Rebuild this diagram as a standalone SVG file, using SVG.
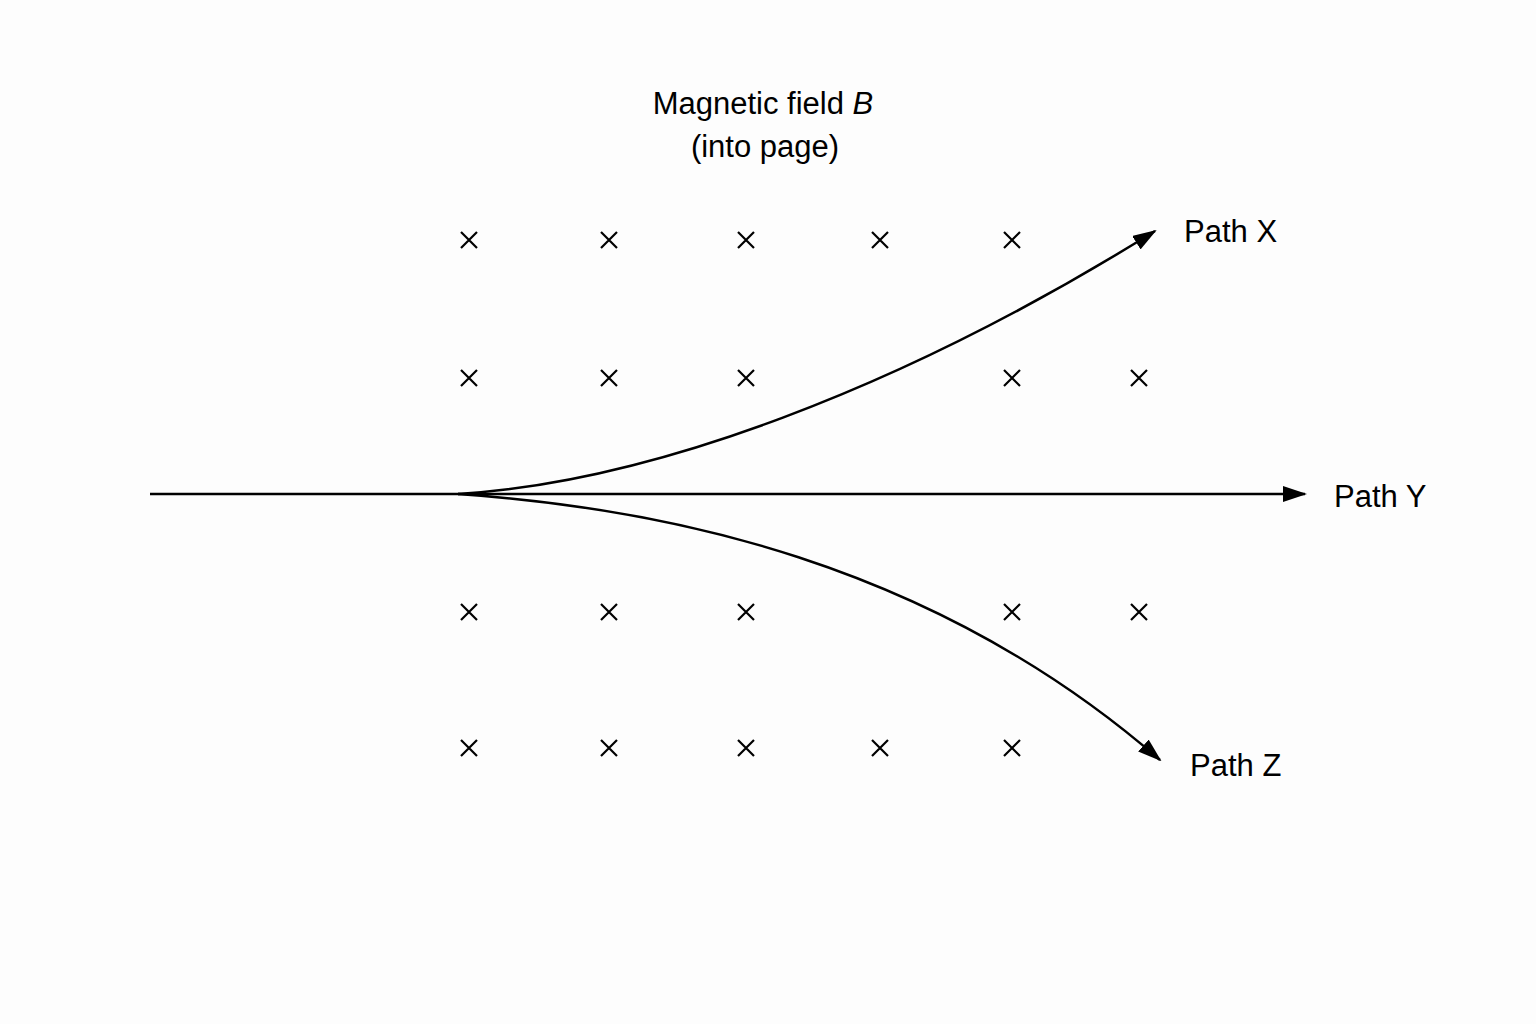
<svg xmlns="http://www.w3.org/2000/svg" width="1536" height="1024" viewBox="0 0 1536 1024">
<defs>
<marker id="ah" markerWidth="24" markerHeight="16" refX="22" refY="8" orient="auto" markerUnits="userSpaceOnUse"><path d="M0,0 L24,8 L0,16 Z" fill="#000"/></marker>
<path id="x" d="M-8,-8 L8,8 M-8,8 L8,-8" stroke="#000" stroke-width="2.2" fill="none"/>
</defs>
<style>text{font-family:"Liberation Sans",Arial,sans-serif;font-size:31px;fill:#000}.c{stroke:#000;stroke-width:2.5;fill:none}</style>
<rect width="1536" height="1024" fill="#fdfdfd"/>
<g id="title"><text x="763" y="114" text-anchor="middle">Magnetic field <tspan font-style="italic">B</tspan></text><text x="765" y="157" text-anchor="middle">(into page)</text></g>
<g id="field">
<use href="#x" x="469" y="240"/><use href="#x" x="609" y="240"/><use href="#x" x="746" y="240"/><use href="#x" x="880" y="240"/><use href="#x" x="1012" y="240"/>
<use href="#x" x="469" y="378"/><use href="#x" x="609" y="378"/><use href="#x" x="746" y="378"/><use href="#x" x="1012" y="378"/><use href="#x" x="1139" y="378"/>
<use href="#x" x="469" y="612"/><use href="#x" x="609" y="612"/><use href="#x" x="746" y="612"/><use href="#x" x="1012" y="612"/><use href="#x" x="1139" y="612"/>
<use href="#x" x="469" y="748"/><use href="#x" x="609" y="748"/><use href="#x" x="746" y="748"/><use href="#x" x="880" y="748"/><use href="#x" x="1012" y="748"/>
</g>
<g id="connectors">
<path class="c" d="M150,494 L1305,494" marker-end="url(#ah)"/>
<path class="c" d="M458,494 C650,482 900,390 1155,231" marker-end="url(#ah)"/>
<path class="c" d="M458,494 C660,508 930,560 1160,760" marker-end="url(#ah)"/>
</g>
<g id="labels"><text x="1184" y="242">Path X</text><text x="1334" y="507">Path Y</text><text x="1190" y="776">Path Z</text></g>
</svg>
